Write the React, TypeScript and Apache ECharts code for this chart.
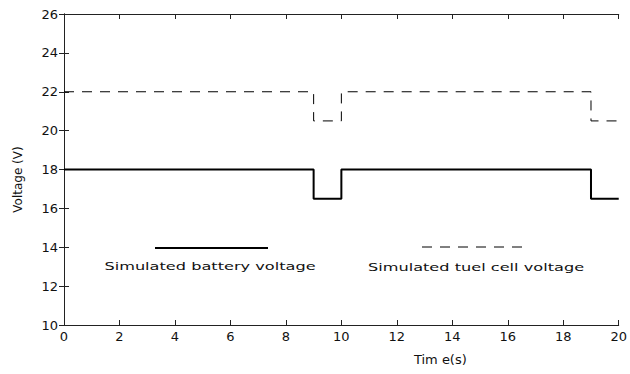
import React, { useEffect, useRef } from "react";
import * as echarts from "echarts";

const timeSteps = [0, 9, 10, 19, 20];
const batteryVoltage = [18, 16.5, 18, 16.5, 16.5];
const fuelCellVoltage = [22, 20.5, 22, 20.5, 20.5];
const legendLabels = ["Simulated battery voltage", "Simulated tuel cell voltage"];

const FONT = "'DejaVu Sans', Verdana, sans-serif";

export default function App() {
  const ref = useRef<HTMLDivElement>(null);
  useEffect(() => {
    if (!ref.current) return;
    const chart = echarts.init(ref.current, null, { renderer: "svg" });
    const axisLine = { show: true, lineStyle: { color: "#222", width: 1 } };
    const tickIn = { show: true, inside: true, length: 5, lineStyle: { color: "#222" } };
    chart.setOption({
      animation: false,
      backgroundColor: "#fff",
      grid: { left: 64, right: 10, top: 14, bottom: 49 },
      xAxis: [
        {
          type: "value", min: 0, max: 20, interval: 2,
          axisLine, axisTick: tickIn, splitLine: { show: false },
          axisLabel: { color: "#111", fontFamily: FONT, fontSize: 13, margin: 5 },
          name: "Tim e(s)", nameLocation: "middle", nameGap: 28,
          nameTextStyle: { color: "#111", fontFamily: FONT, fontSize: 13, padding: [0, 0, 0, 198] },
        },
        {
          type: "value", min: 0, max: 20, interval: 2, position: "top",
          axisLine, axisTick: tickIn, axisLabel: { show: false }, splitLine: { show: false },
        },
      ],
      yAxis: [
        {
          type: "value", min: 10, max: 26, interval: 2,
          axisLine, axisTick: tickIn, splitLine: { show: false },
          axisLabel: { color: "#111", fontFamily: FONT, fontSize: 13, margin: 6 },
          name: "Voltage (V)", nameLocation: "middle", nameGap: 40, nameRotate: 90,
          nameTextStyle: { color: "#111", fontFamily: FONT, fontSize: 12, padding: [0, 20, 0, 0] },
        },
        {
          type: "value", min: 10, max: 26, interval: 2, position: "right",
          axisLine, axisTick: tickIn, axisLabel: { show: false }, splitLine: { show: false },
        },
      ],
      series: [
        {
          name: legendLabels[0], type: "line", step: "end", symbol: "none",
          data: timeSteps.map((t, i) => [t, batteryVoltage[i]]),
          lineStyle: { color: "#000", width: 2 },
        },
        {
          name: legendLabels[1], type: "line", step: "end", symbol: "none",
          data: timeSteps.map((t, i) => [t, fuelCellVoltage[i]]),
          lineStyle: { color: "#000", width: 1, type: [10, 8] },
        },
      ],
      graphic: [
        { type: "line", shape: { x1: 155, y1: 248, x2: 268, y2: 248 }, style: { stroke: "#000", lineWidth: 2 } },
        { type: "text", x: 210, y: 266, scaleX: 1.47, style: { text: legendLabels[0], font: `11px ${FONT}`, fill: "#111", textAlign: "center", textVerticalAlign: "middle" } },
        { type: "line", shape: { x1: 422, y1: 247, x2: 524, y2: 247 }, style: { stroke: "#000", lineWidth: 1, lineDash: [10, 8] } },
        { type: "text", x: 476, y: 267, scaleX: 1.47, style: { text: legendLabels[1], font: `11px ${FONT}`, fill: "#111", textAlign: "center", textVerticalAlign: "middle" } },
      ],
    });
    return () => chart.dispose();
  }, []);
  return <div ref={ref} style={{ position: "fixed", left: 0, top: 0, width: 630, height: 374 }} />;
}
